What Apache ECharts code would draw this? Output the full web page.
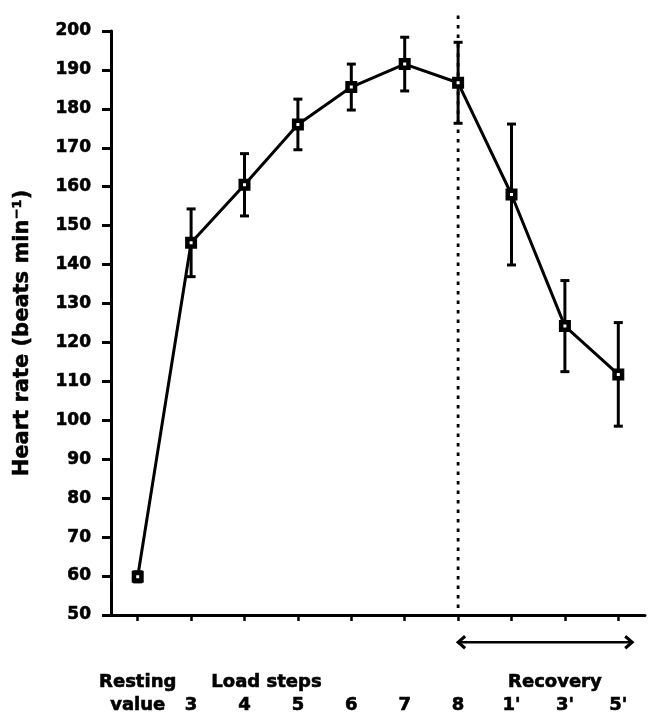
<!DOCTYPE html>
<html>
<head>
<meta charset="utf-8">
<script src="https://cdn.jsdelivr.net/npm/echarts@6/dist/echarts.min.js"></script>
<style>
  html, body { margin: 0; padding: 0; background: #fff; }
  #chart { width: 651px; height: 718px; }
</style>
</head>
<body>
<div id="chart"></div>
<script>
// ---- data ----
const categories = ['Resting value', '3', '4', '5', '6', '7', '8', "1'", "3'", "5'"];
const bottomLabels = ['value', '3', '4', '5', '6', '7', '8', "1'", "3'", "5'"];
const topLabels = ['Resting', '', 'Load steps', '', '', '', '', '', 'Recovery', ''];
const heartRate = [59.8, 145.6, 160.5, 176, 185.6, 191.5, 186.7, 158, 124.2, 111.8];
const errorSD = [1.3, 8.7, 8, 6.5, 5.9, 6.9, 10.4, 18.1, 11.7, 13.3];
const yTicks = { min: 50, max: 200, interval: 10 };
// annotations: dotted divider at step "8", recovery arrow from "8" past "5'"
const dividerAt = 6;          // category index of step 8
const dividerRange = [50, 204];
const arrowFrom = 6;
const arrowTo = 9.26;         // in category units
const arrowLevel = 43;        // heart-rate units (below axis)

const errData = heartRate.map((v, i) => [i, v - errorSD[i], v + errorSD[i]]);

const FONT = 'DejaVu Sans';
const chart = echarts.init(document.getElementById('chart'));

const topStyleFor = (i) => {
  if (i === 2) return 'ls';
  if (i === 8) return 'rc';
  return 't';
};
const txt = { fontFamily: FONT, fontWeight: 'bold', fontSize: 18, lineHeight: 23, color: '#000', textBorderColor: '#000', textBorderWidth: 0.6 };

chart.setOption({
  backgroundColor: '#fff',
  animation: false,
  grid: { left: 111, right: 6, top: 31, bottom: 103, outerBoundsMode: 'none', containLabel: false },
  xAxis: {
    type: 'category',
    data: categories,
    boundaryGap: true,
    axisLine: { show: true, lineStyle: { color: '#000', width: 3 } },
    axisTick: { show: true, alignWithLabel: true, length: 6, lineStyle: { color: '#000', width: 2.5 } },
    axisLabel: {
      interval: 0,
      margin: 56,
      color: '#000',
      formatter: (val, i) => {
        const t = topLabels[i] || '\u00a0';
        return '{' + topStyleFor(i) + '|' + t + '}\n{b|' + bottomLabels[i] + '}';
      },
      rich: {
        t: Object.assign({}, txt),
        ls: Object.assign({}, txt, { padding: [0, 0, 0, 44] }),
        rc: Object.assign({}, txt, { padding: [0, 20, 0, 0] }),
        b: Object.assign({}, txt)
      }
    },
    splitLine: { show: false }
  },
  yAxis: {
    type: 'value',
    min: yTicks.min,
    max: yTicks.max,
    interval: yTicks.interval,
    name: 'Heart rate (beats min\u207B\u00B9)',
    nameLocation: 'middle',
    nameRotate: 90,
    nameGap: 78,
    nameTextStyle: { fontFamily: FONT, fontWeight: 'bold', fontSize: 21, color: '#000', textBorderColor: '#000', textBorderWidth: 0.5, padding: [0, 20, 0, 0] },
    axisLine: { show: true, lineStyle: { color: '#000', width: 3 } },
    axisTick: { show: true, length: 9, lineStyle: { color: '#000', width: 3 } },
    axisLabel: { margin: 20, color: '#000', fontFamily: FONT, fontWeight: 'bold', fontSize: 17, textBorderColor: '#000', textBorderWidth: 0.6 },
    splitLine: { show: false }
  },
  series: [
    {
      type: 'custom',
      z: 2,
      clip: false,
      data: errData,
      renderItem: (params, api) => {
        const x = api.value(0);
        const lo = api.coord([x, api.value(1)]);
        const hi = api.coord([x, api.value(2)]);
        const cap = 4.5;
        const style = { stroke: '#000', lineWidth: 3, fill: null };
        return {
          type: 'group',
          children: [
            { type: 'line', shape: { x1: lo[0], y1: lo[1], x2: hi[0], y2: hi[1] }, style },
            { type: 'line', shape: { x1: lo[0] - cap, y1: lo[1], x2: lo[0] + cap, y2: lo[1] }, style },
            { type: 'line', shape: { x1: hi[0] - cap, y1: hi[1], x2: hi[0] + cap, y2: hi[1] }, style }
          ]
        };
      }
    },
    {
      type: 'custom',
      z: 1,
      clip: false,
      silent: true,
      data: [[dividerAt, dividerRange[0], dividerRange[1], arrowFrom, arrowTo, arrowLevel]],
      renderItem: (params, api) => {
        const dBot = api.coord([api.value(0), api.value(1)]);
        const dTop = api.coord([api.value(0), api.value(2)]);
        const band = api.size([1, 0])[0];
        const aL = api.coord([api.value(3), api.value(5)]);
        const i0 = Math.floor(api.value(4));
        const aR0 = api.coord([i0, api.value(5)]);
        const aRx = aR0[0] + (api.value(4) - i0) * band;
        const y = aL[1];
        const s = { stroke: '#000', lineWidth: 2.5, fill: null };
        const hw = 6, hl = 7;
        return {
          type: 'group',
          children: [
            { type: 'line', shape: { x1: dTop[0], y1: dTop[1], x2: dBot[0], y2: dBot[1] },
              style: { stroke: '#000', lineWidth: 2.8, lineDash: [3.5, 6], lineCap: 'butt' } },
            { type: 'line', shape: { x1: aL[0], y1: y, x2: aRx, y2: y }, style: s },
            { type: 'polyline', shape: { points: [[aL[0] + hl, y - hw], [aL[0], y], [aL[0] + hl, y + hw]] }, style: Object.assign({}, s, { lineWidth: 3 }) },
            { type: 'polyline', shape: { points: [[aRx - hl, y - hw], [aRx, y], [aRx - hl, y + hw]] }, style: Object.assign({}, s, { lineWidth: 3 }) }
          ]
        };
      }
    },
    {
      type: 'line',
      z: 3,
      clip: false,
      data: heartRate,
      symbol: 'rect',
      symbolSize: 7.5,
      showAllSymbol: true,
      lineStyle: { color: '#000', width: 3 },
      itemStyle: { color: '#fff', borderColor: '#000', borderWidth: 4.5 }
    }
  ]
});
</script>
</body>
</html>
